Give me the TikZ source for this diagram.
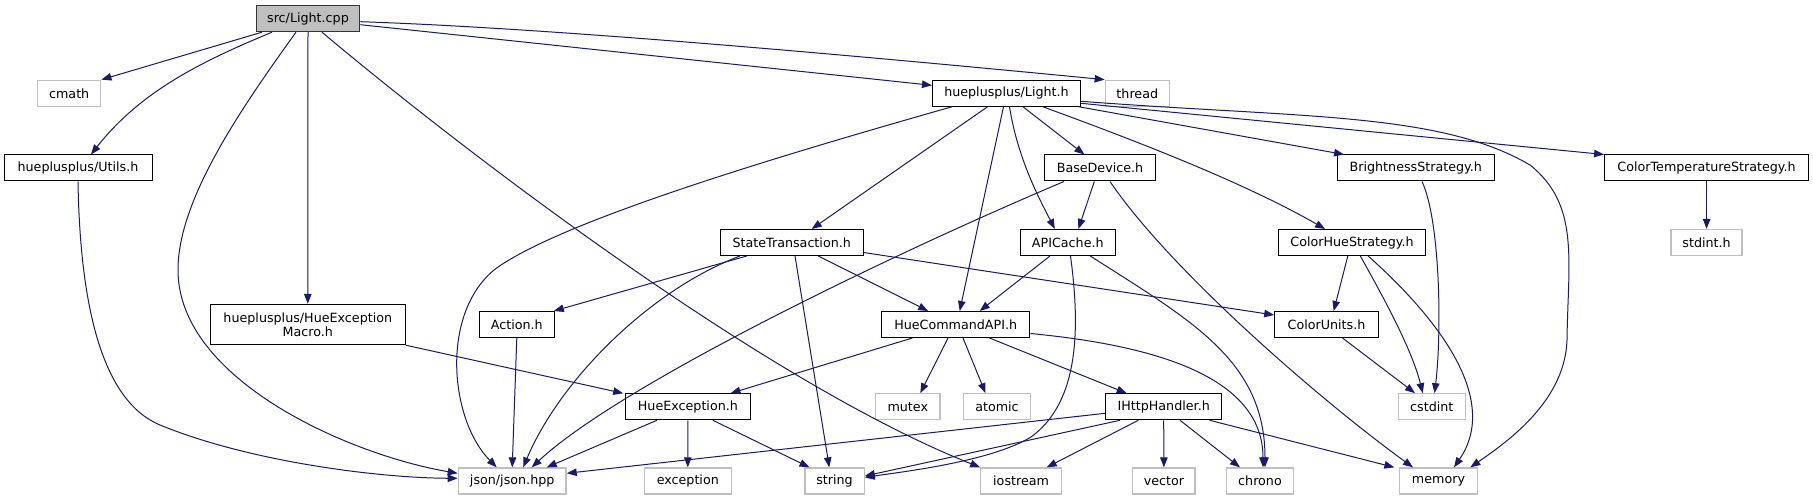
\documentclass[tikz,border=0pt]{standalone}
\usepackage{fontspec}
\setmainfont{DejaVu Sans}
\usetikzlibrary{arrows.meta}
\definecolor{edgeblue}{HTML}{191970}
\definecolor{extgrey}{HTML}{BFBFBF}
\definecolor{srcfill}{HTML}{BFBFBF}
\begin{document}
\begin{tikzpicture}[x=1pt,y=-1pt,
  box/.style={draw=black,line width=1pt,fill=white,inner sep=0pt,minimum height=26pt,font=\fontsize{12.7}{14}\selectfont},
  extbox/.style={box,draw=extgrey,line width=1.3pt},
  srcbox/.style={box,fill=srcfill,draw=black!80},
  dep/.style={draw=edgeblue,line width=1pt,-{Triangle[length=10pt,width=7.5pt]}}
]
\fill[white] (0,0) rectangle (1813,500);
\useasboundingbox (0,0) rectangle (1813,500);

% row 0
\node[srcbox,minimum width=103.6pt] (lightcpp) at (308,18.7) {src/Light.cpp};
% row 1
\node[extbox,minimum width=63.2pt] (cmath) at (69.2,93.3) {cmath};
\node[box,minimum width=148pt] (lighth) at (1006.5,93.3) {hueplusplus/Light.h};
\node[extbox,minimum width=64pt] (thread) at (1137.3,93.3) {thread};
% row 2
\node[box,minimum width=148pt] (utils) at (78,168) {hueplusplus/Utils.h};
\node[box,minimum width=111pt] (basedev) at (1100,168) {BaseDevice.h};
\node[box,minimum width=156.4pt] (bright) at (1415.8,168) {BrightnessStrategy.h};
\node[box,minimum width=204pt] (colortemp) at (1706.6,168) {ColorTemperatureStrategy.h};
% row 3
\node[box,minimum width=142.7pt] (statetr) at (791.7,242.5) {StateTransaction.h};
\node[box,minimum width=95pt] (apicache) at (1067.8,242.5) {APICache.h};
\node[box,minimum width=147pt] (colorhue) at (1352.1,242.5) {ColorHueStrategy.h};
\node[extbox,minimum width=71pt] (stdint) at (1706.6,242.5) {stdint.h};
% row 4
\node[box,minimum width=195pt,minimum height=40.4pt,align=center] (macro) at (307.8,324.5) {hueplusplus/HueException\\Macro.h};
\node[box,minimum width=75pt] (action) at (516.8,324.5) {Action.h};
\node[box,minimum width=148.3pt] (huecmd) at (955.7,324.5) {HueCommandAPI.h};
\node[box,minimum width=103.6pt] (colorunits) at (1326.5,324.5) {ColorUnits.h};
% row 5
\node[box,minimum width=124.4pt] (hueexc) at (687.9,406.8) {HueException.h};
\node[extbox,minimum width=64.4pt] (mutex) at (907.8,406.8) {mutex};
\node[extbox,minimum width=66.4pt] (atomic) at (997,406.8) {atomic};
\node[box,minimum width=116pt] (ihttp) at (1163.7,406.8) {IHttpHandler.h};
\node[extbox,minimum width=67.2pt] (cstdint) at (1431.8,406.8) {cstdint};
% row 6
\node[extbox,minimum width=107.7pt] (json) at (512.2,481) {json/json.hpp};
\node[extbox,minimum width=87pt] (exception) at (687.8,481) {exception};
\node[extbox,minimum width=59.3pt] (string) at (834.5,481) {string};
\node[extbox,minimum width=80.6pt] (iostream) at (1021.1,481) {iostream};
\node[extbox,minimum width=62.3pt] (vector) at (1163.9,481) {vector};
\node[extbox,minimum width=66.6pt] (chrono) at (1260,481) {chrono};
\node[extbox,minimum width=77.4pt] (memory) at (1438.5,481) {memory};

% src/Light.cpp
\draw[dep] ([xshift=-46pt]lightcpp.south) -- (cmath.north east);
\draw[dep] ([xshift=-36pt]lightcpp.south) .. controls (200,62) and (140,92) .. ([xshift=13pt]utils.north);
\draw[dep] ([xshift=-12pt]lightcpp.south) .. controls (240,110) and (178,200) .. (178,270) .. controls (178,380) and (350,455) .. ([yshift=7.7pt]json.west);
\draw[dep] (lightcpp.south) -- (macro.north);
\draw[dep] ([xshift=14pt]lightcpp.south) .. controls (450,140) and (760,380) .. (iostream.north west);
\draw[dep] ([yshift=-6pt]lightcpp.east) -- ([yshift=8pt]lighth.west);
\draw[dep] ([yshift=-3pt]lightcpp.east) .. controls (550,28) and (850,55) .. (thread.north west);
% Utils, Macro
\draw[dep] (utils.south) .. controls (80,300) and (100,400) .. (160,425) .. controls (250,462) and (380,478) .. ([yshift=2.7pt]json.west);
\draw[dep] (macro.south east) -- ([xshift=-2pt]hueexc.north west);
% Light.h
\draw[dep] ([xshift=-54.6pt]lighth.south) .. controls (800,150) and (560,220) .. (494,270) .. controls (440,315) and (450,420) .. ([xshift=-15.5pt]json.north);
\draw[dep] ([xshift=-19pt]lighth.south) -- ([xshift=20pt]statetr.north);
\draw[dep] ([xshift=-3pt]lighth.south) -- ([xshift=4pt]huecmd.north);
\draw[dep] ([xshift=3pt]lighth.south) .. controls (1018,160) and (1040,200) .. ([xshift=-13pt]apicache.north);
\draw[dep] ([xshift=16.5pt]lighth.south) -- ([xshift=-15.6pt]basedev.north);
\draw[dep] ([xshift=36.4pt]lighth.south) .. controls (1120,135) and (1240,180) .. ([xshift=-27pt]colorhue.north);
\draw[dep] ([xshift=-2pt]lighth.south east) -- ([xshift=7pt]bright.north west);
\draw[dep] ([yshift=-10pt]lighth.east) -- (colortemp.north west);
\draw[dep] ([yshift=-8pt]lighth.east) .. controls (1300,118) and (1440,112) .. (1530,165) .. controls (1580,205) and (1568,260) .. (1567,340) .. controls (1565,400) and (1510,440) .. ([xshift=-7.5pt]memory.north east);
% BaseDevice
\draw[dep] ([xshift=-36pt]basedev.south) .. controls (890,255) and (620,385) .. ([xshift=19.5pt]json.north);
\draw[dep] ([xshift=-5.7pt]basedev.south) -- ([xshift=10.6pt]apicache.north);
\draw[dep] ([xshift=10pt]basedev.south) .. controls (1170,270) and (1320,400) .. ([xshift=-25.5pt]memory.north);
% StateTransaction
\draw[dep] ([xshift=-45pt]statetr.south) -- ([xshift=-1pt]action.north east);
\draw[dep] ([xshift=-51.7pt]statetr.south) .. controls (650,290) and (560,380) .. ([xshift=11pt]json.north);
\draw[dep] ([xshift=3.3pt]statetr.south) -- ([xshift=-5.2pt]string.north);
\draw[dep] ([xshift=26.6pt]statetr.south) -- ([xshift=-27.5pt]huecmd.north);
\draw[dep] ([yshift=-10pt]statetr.east) -- ([yshift=9.5pt]colorunits.west);
% Action
\draw[dep] (action.south) -- (json.north);
% APICache
\draw[dep] ([xshift=-17.8pt]apicache.south) -- ([xshift=24pt]huecmd.north);
\draw[dep] ([xshift=2.7pt]apicache.south) .. controls (1082,340) and (1075,405) .. (1031,437) .. controls (990,462) and (900,472) .. ([yshift=3.5pt]string.east);
\draw[dep] ([xshift=22.5pt]apicache.south) .. controls (1190,320) and (1265,360) .. ([xshift=5pt]chrono.north);
% HueCommandAPI
\draw[dep] ([xshift=-43.3pt]huecmd.south) -- ([xshift=42.6pt]hueexc.north);
\draw[dep] ([xshift=-7.7pt]huecmd.south) -- ([xshift=12.5pt]mutex.north);
\draw[dep] ([xshift=7.3pt]huecmd.south) -- ([xshift=-11.5pt]atomic.north);
\draw[dep] ([xshift=33.8pt]huecmd.south) -- ([xshift=-37pt]ihttp.north);
\draw[dep] ([yshift=-9pt]huecmd.east) .. controls (1150,345) and (1263,375) .. ([xshift=3pt]chrono.north);
% Strategies
\draw[dep] ([xshift=-4.3pt]colorhue.south) -- ([xshift=7.2pt]colorunits.north);
\draw[dep] ([xshift=8.2pt]colorhue.south) .. controls (1385,300) and (1412,350) .. ([xshift=-9pt]cstdint.north);
\draw[dep] ([xshift=16pt]colorhue.south) .. controls (1440,320) and (1500,400) .. ([xshift=15.5pt]memory.north);
\draw[dep] ([xshift=6.2pt]bright.south) .. controls (1440,220) and (1442,330) .. ([xshift=2.8pt]cstdint.north);
\draw[dep] ([xshift=16pt]colorunits.south) -- ([xshift=-16.8pt]cstdint.north);
\draw[dep] (colortemp.south) -- (stdint.north);
% HueException
\draw[dep] ([xshift=-31pt]hueexc.south) -- ([xshift=34.5pt]json.north);
\draw[dep] (hueexc.south) -- (exception.north);
\draw[dep] ([xshift=25pt]hueexc.south) -- ([xshift=-25pt]string.north);
% IHttpHandler
\draw[dep] ([yshift=-6.5pt]ihttp.west) -- ([yshift=7.7pt]json.east);
\draw[dep] ([xshift=-43.7pt]ihttp.south) -- ([yshift=5pt]string.east);
\draw[dep] ([xshift=-25.4pt]ihttp.south) -- ([xshift=25.6pt]iostream.north);
\draw[dep] (ihttp.south) -- (vector.north);
\draw[dep] ([xshift=16.3pt]ihttp.south) -- ([xshift=-20pt]chrono.north);
\draw[dep] ([xshift=46pt]ihttp.south) -- ([xshift=-4.8pt]memory.north west);
\end{tikzpicture}
\end{document}
